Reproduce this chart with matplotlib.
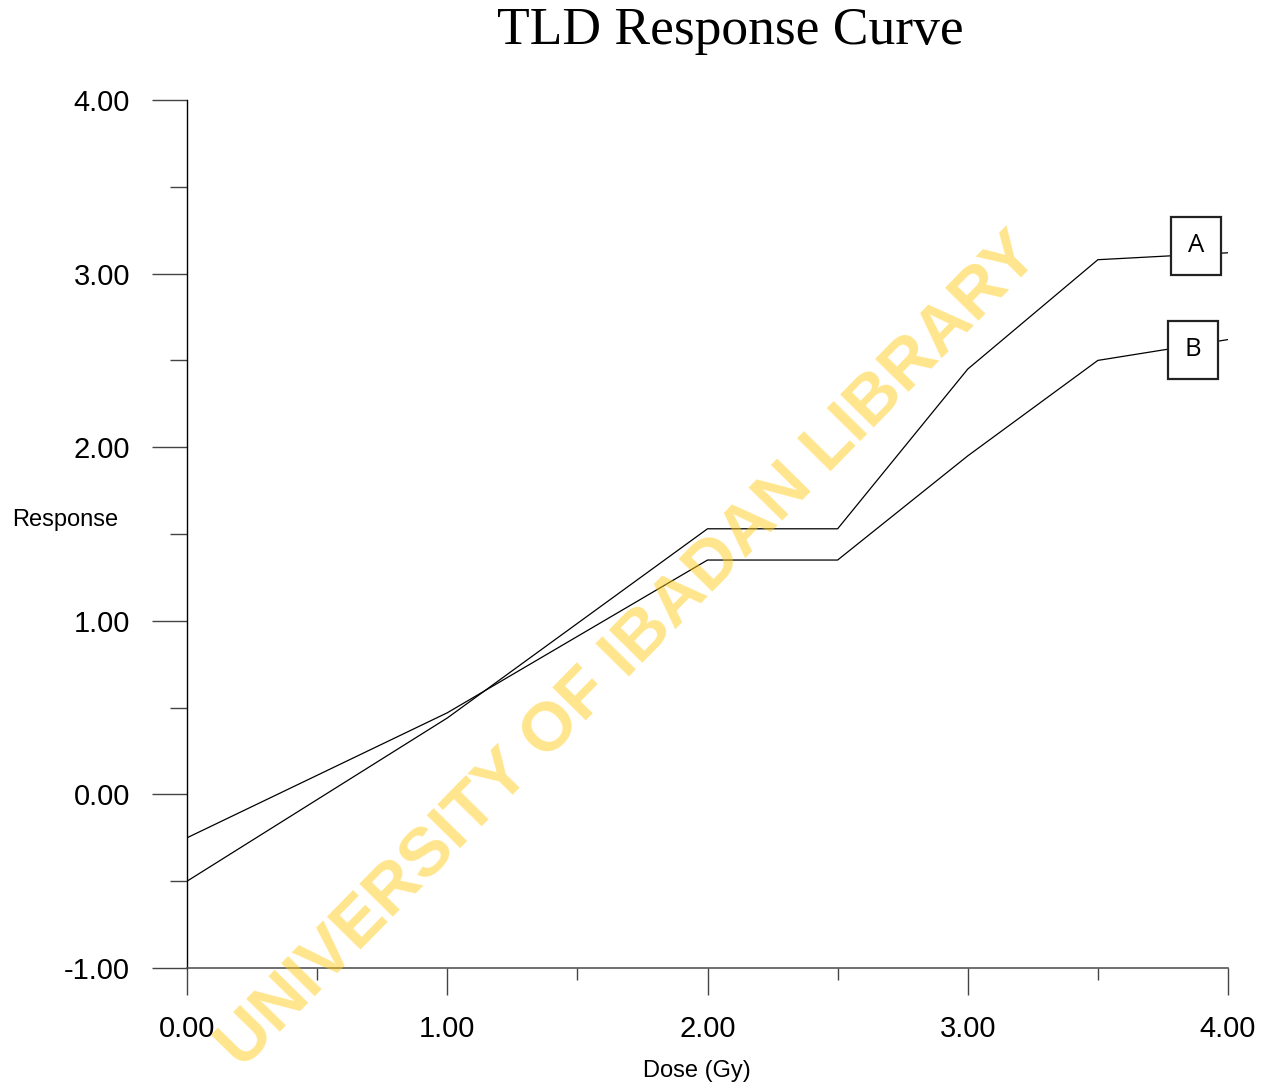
import matplotlib.pyplot as plt
import numpy as np
from matplotlib.ticker import MultipleLocator, FormatStrFormatter

# Data
dose = [0.0, 1.0, 2.0, 2.5, 3.0, 3.5, 4.0]
response_a = [-0.50, 0.44, 1.53, 1.53, 2.45, 3.08, 3.12]
response_b = [-0.25, 0.47, 1.35, 1.35, 1.95, 2.50, 2.62]
series_labels = ["A", "B"]
label_pos = [(3.877, 3.16), (3.866, 2.56)]

fig = plt.figure(figsize=(12.68, 10.89), dpi=100)
ax = fig.add_axes([187 / 1268, 121 / 1089, 1041 / 1268, 868 / 1089])

ax.plot(dose, response_a, color="black", lw=0.9)
ax.plot(dose, response_b, color="black", lw=0.9)

ax.set_xlim(0, 4)
ax.set_ylim(-1, 4)

# Axis look: only left and bottom lines
ax.spines["top"].set_visible(False)
ax.spines["right"].set_visible(False)
ax.spines["left"].set_color("black")
ax.spines["bottom"].set_color("#555555")
ax.spines["left"].set_linewidth(1.0)
ax.spines["bottom"].set_linewidth(1.2)

ax.xaxis.set_major_locator(MultipleLocator(1.0))
ax.xaxis.set_minor_locator(MultipleLocator(0.5))
ax.yaxis.set_major_locator(MultipleLocator(1.0))
ax.yaxis.set_minor_locator(MultipleLocator(0.5))
ax.xaxis.set_major_formatter(FormatStrFormatter("%.2f"))
ax.yaxis.set_major_formatter(FormatStrFormatter("%.2f"))

ax.tick_params(axis="y", which="major", direction="out", length=25, width=1.0,
               color="#444444", pad=16, labelsize=21, labelfontfamily="Liberation Sans")
ax.tick_params(axis="y", which="minor", direction="out", length=12, width=1.0, color="#444444")
ax.tick_params(axis="x", which="major", direction="out", length=19.5, width=1.0,
               color="#444444", pad=14, labelsize=21, labelfontfamily="Liberation Sans")
ax.tick_params(axis="x", which="minor", direction="out", length=8.5, width=1.0, color="#444444")

# Boxed labels at the right end of each line
for lab, (x, y) in zip(series_labels, label_pos):
    ax.text(x, y, lab, ha="center", va="center", fontsize=18.5, family="Open Sans",
            bbox=dict(boxstyle="square,pad=0.64", fc="white", ec="#222222", lw=1.6),
            zorder=5)

fig.text(730 / 1268, 1 - 31 / 1089, "TLD Response Curve", ha="center", va="center",
         fontsize=38.5, family="Liberation Serif")
fig.text(12 / 1268, 1 - 520 / 1089, "Response", ha="left", va="center",
         fontsize=17, family="Liberation Sans")
fig.text(697 / 1268, 1 - 1071 / 1089, "Dose (Gy)", ha="center", va="center",
         fontsize=17, family="Liberation Sans")

# Watermark
fig.text(629 / 1268, 1 - 651 / 1089, "UNIVERSITY OF IBADAN LIBRARY", ha="center", va="center",
         rotation=45.5, rotation_mode="anchor", fontsize=49.8, fontweight="bold",
         family="Liberation Sans", color=(1.0, 0.8, 0.1), alpha=0.5, zorder=10)

fig.savefig("out.png", dpi=100)
